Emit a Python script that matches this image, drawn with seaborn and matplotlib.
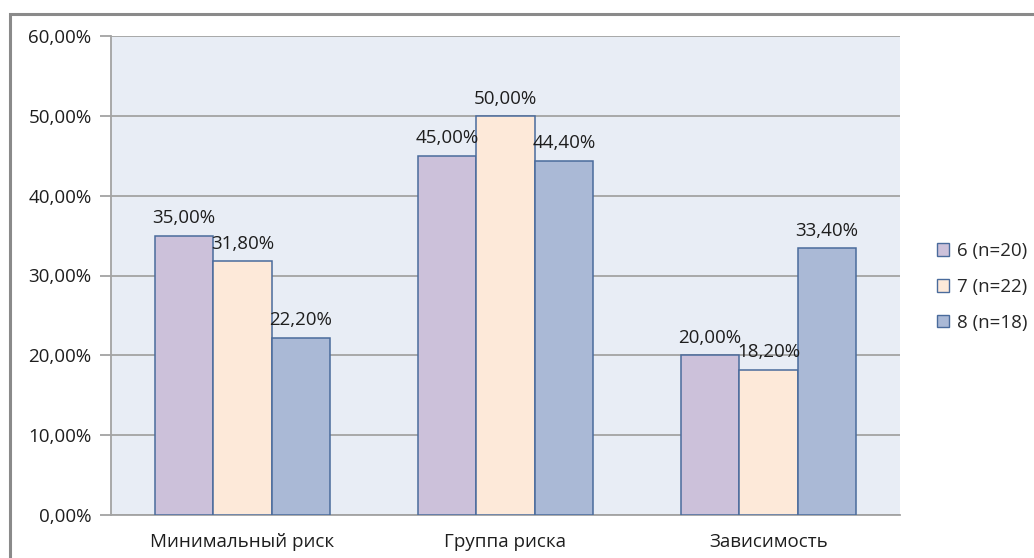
import matplotlib
matplotlib.use("Agg")
import matplotlib.pyplot as plt
from matplotlib.patches import Rectangle
import seaborn as sns
import pandas as pd

categories = ["Минимальный риск", "Группа риска", "Зависимость"]
series = ["6 (n=20)", "7 (n=22)", "8 (n=18)"]
values_6 = [35.0, 45.0, 20.0]
values_7 = [31.8, 50.0, 18.2]
values_8 = [22.2, 44.4, 33.4]
y_ticks = [0, 10, 20, 30, 40, 50, 60]

colors = ["#ccc1da", "#fde9d9", "#aab9d6"]

rows = []
for name, vals in zip(series, [values_6, values_7, values_8]):
    for cat, v in zip(categories, vals):
        rows.append({"cat": cat, "grp": name, "val": v})
df = pd.DataFrame(rows)

sns.set_theme(style="white")
plt.rcParams["font.family"] = ["Open Sans", "DejaVu Sans"]

FS = 13.5
W, H = 1034, 558
fig = plt.figure(figsize=(W / 100, H / 100), dpi=100)
fig.patch.set_facecolor("white")

# chart frame
fig.add_artist(Rectangle((10 / W, -0.05), 1.1, 1 - 14 / H + 0.05,
                         transform=fig.transFigure, fill=False,
                         edgecolor="#8a8a8a", linewidth=2.2))

left, right, top, bottom = 111 / W, 900 / W, 36 / H, 515 / H
ax = fig.add_axes([left, 1 - bottom, right - left, bottom - top])
ax.set_facecolor("#e8edf5")

sns.barplot(data=df, x="cat", y="val", hue="grp", order=categories,
            hue_order=series, palette=colors, width=3 / 4.5,
            edgecolor="#4a6b9c", linewidth=1.1, saturation=1,
            ax=ax, zorder=3)

ax.set_xlim(-0.5, 2.5)
ax.set_ylim(0, 60)
ax.set_yticks(y_ticks)
ax.set_yticklabels([f"{t:.2f}".replace(".", ",") + "%" for t in y_ticks],
                   fontsize=FS, color="#1e1e1e")
ax.yaxis.grid(True, color="#a3a3a3", linewidth=1.3, zorder=0)
ax.set_axisbelow(True)
ax.set_xlabel("")
ax.set_ylabel("")

ax.set_xticks([0, 1, 2])
ax.set_xticklabels(categories, fontsize=FS, color="#1e1e1e")
ax.tick_params(axis="x", which="major", length=0, pad=13)
ax.set_xticks([-0.5, 0.5, 1.5, 2.5], minor=True)
ax.tick_params(axis="x", which="minor", length=8, width=1.3, color="#a3a3a3", direction="out")
ax.tick_params(axis="y", length=8, width=1.3, color="#a3a3a3", direction="out", pad=6, left=True)

for side in ["top", "right"]:
    ax.spines[side].set_visible(False)
for side in ["left", "bottom"]:
    ax.spines[side].set_color("#a3a3a3")
    ax.spines[side].set_linewidth(1.3)

for cont in ax.containers:
    ax.bar_label(cont, labels=[f"{b.get_height():.2f}".replace(".", ",") + "%" for b in cont],
                 fontsize=FS, color="#1e1e1e", padding=6)

leg = ax.legend(loc="center left", bbox_to_anchor=(1.025, 0.476), frameon=False,
                fontsize=FS, handlelength=0.65, handleheight=0.65,
                handletextpad=0.45, labelspacing=0.95)
for h in leg.legend_handles:
    h.set_edgecolor("#4a6b9c")
    h.set_linewidth(1.0)

fig.savefig("out.png", dpi=100)
